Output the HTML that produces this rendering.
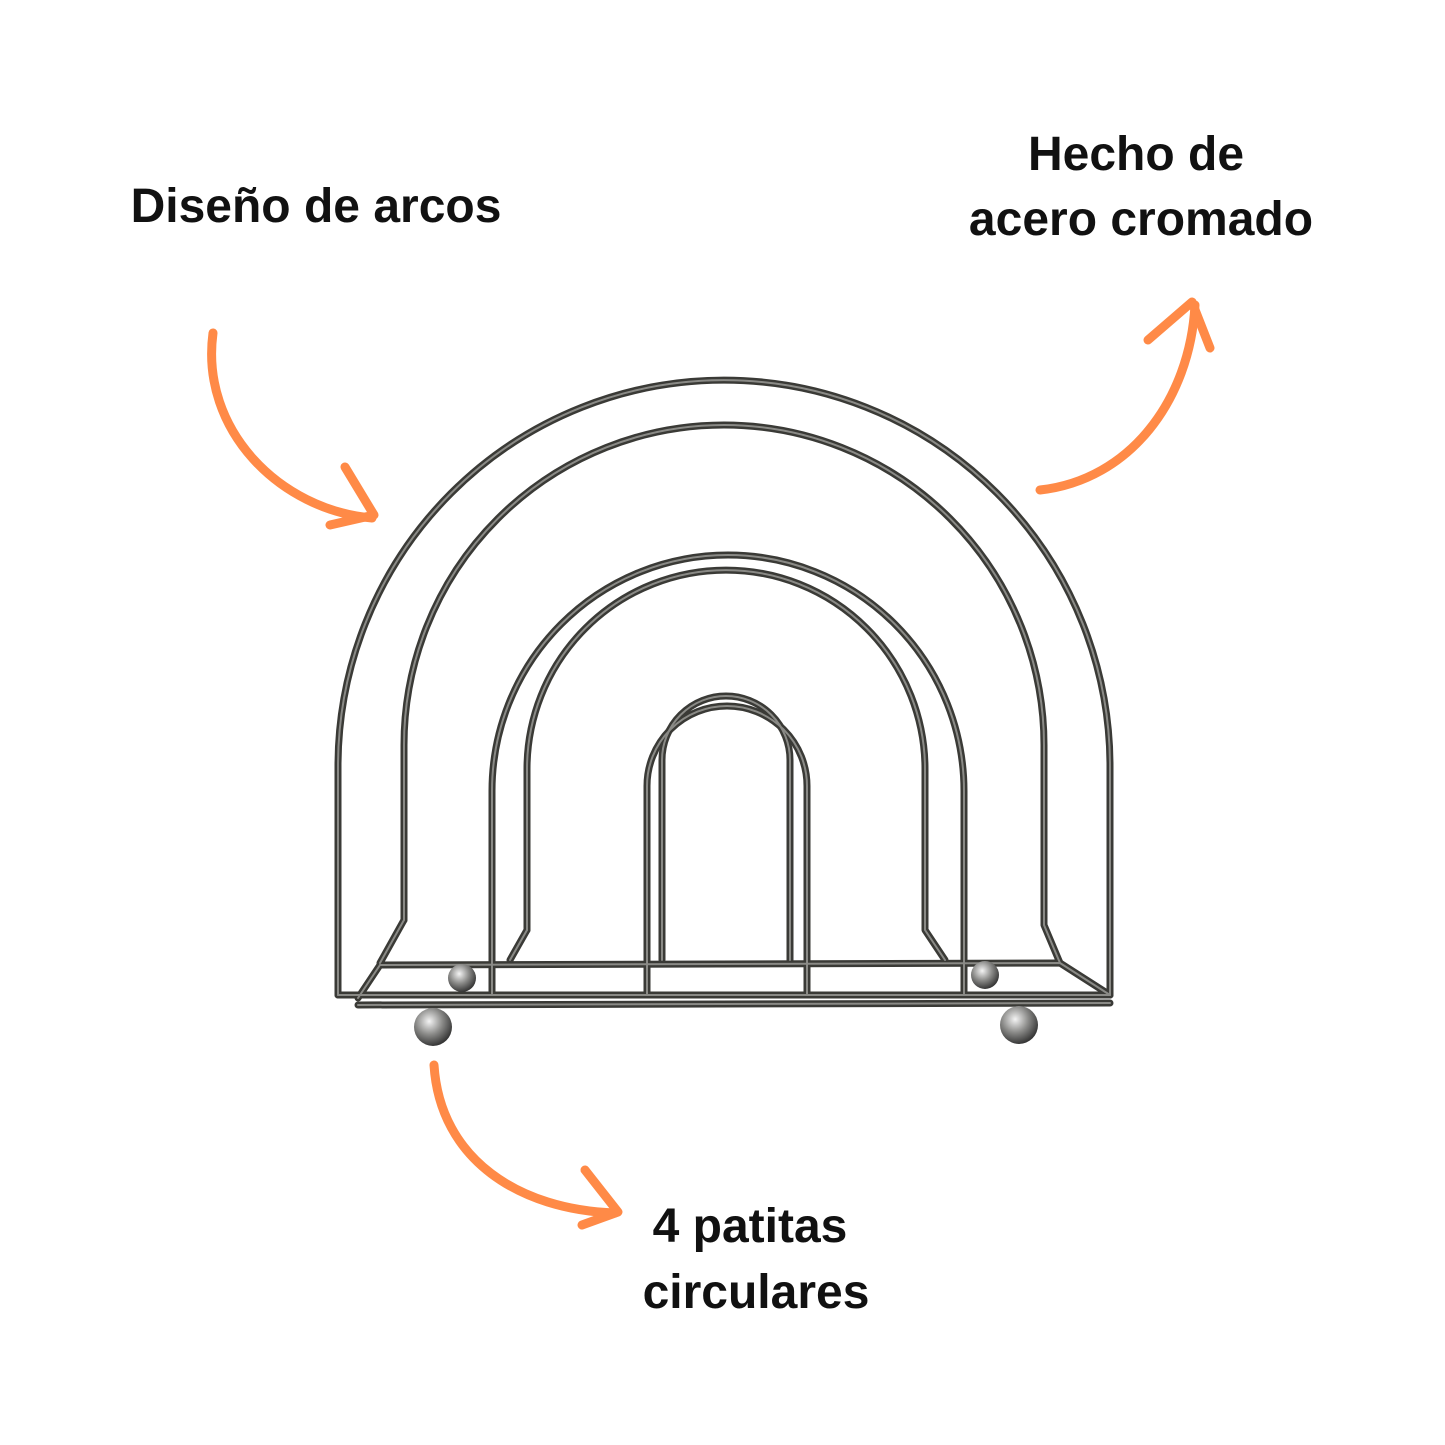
<!DOCTYPE html>
<html><head><meta charset="utf-8"><style>
html,body{margin:0;padding:0;background:#fff;}
svg{display:block;}
text{font-family:"Liberation Sans",sans-serif;font-weight:bold;fill:#111;}
</style></head><body>
<svg width="1445" height="1445" viewBox="0 0 1445 1445" xmlns="http://www.w3.org/2000/svg">
<rect width="1445" height="1445" fill="#fff"/>
<text x="316" y="222" font-size="48" text-anchor="middle">Diseño de arcos</text>
<text x="1136" y="170" font-size="48" text-anchor="middle">Hecho de</text>
<text x="1141" y="235" font-size="48" text-anchor="middle">acero cromado</text>
<text x="750" y="1242" font-size="48" text-anchor="middle">4 patitas</text>
<text x="756" y="1308" font-size="48" text-anchor="middle">circulares</text>

<defs>
<g id="wires" fill="none" stroke-linecap="round" stroke-linejoin="round">
<path d="M380,965 L1060,963 L1110,995"/>
<path d="M358,998 L380,965"/>
<path d="M404,920 L404,745 A320,320 0 0 1 1044,745 L1044,925 L1060,963"/>
<path d="M404,920 L380,963"/>
<path d="M527,930 L527,769 A199,199 0 0 1 925,769 L925,930 L945,960"/>
<path d="M527,930 L510,960"/>
<path d="M662,960 L662,760 A64,64 0 0 1 790,760 L790,960"/>
<path d="M338,995 L338,766 A386,386 0 0 1 1110,766 L1110,995"/>
<path d="M492,995 L492,791 A236,236 0 0 1 964,791 L964,995"/>
<path d="M647,995 L647,786 A80,80 0 0 1 807,786 L807,995"/>
<path d="M338,995 L1110,995"/>
<path d="M358,1005 L1110,1003"/>
</g>
<radialGradient id="b" cx="0.4" cy="0.35" r="0.7"><stop offset="0" stop-color="#f4f4f4"/><stop offset="0.5" stop-color="#8a8a88"/><stop offset="1" stop-color="#2a2a2a"/></radialGradient>
</defs>
<use href="#wires" stroke="#3a3a36" stroke-width="7"/>
<use href="#wires" stroke="#8a8a86" stroke-width="2"/>

<circle cx="462" cy="978" r="14" fill="url(#b)"/>
<circle cx="985" cy="975" r="14" fill="url(#b)"/>
<circle cx="433" cy="1027" r="19" fill="url(#b)"/>
<circle cx="1019" cy="1025" r="19" fill="url(#b)"/>

<g fill="none" stroke="#ff8a47" stroke-width="9" stroke-linecap="round" stroke-linejoin="round">
<path d="M213,333 C200,430 280,510 372,518"/>
<path d="M345,467 L374,515 L330,525"/>
<path d="M1040,490 C1130,480 1190,400 1195,305"/>
<path d="M1148,340 L1192,302 L1210,348"/>
<path d="M434,1065 C440,1160 520,1210 615,1213"/>
<path d="M585,1170 L618,1212 L582,1225"/>
</g>
</svg>
</body></html>
